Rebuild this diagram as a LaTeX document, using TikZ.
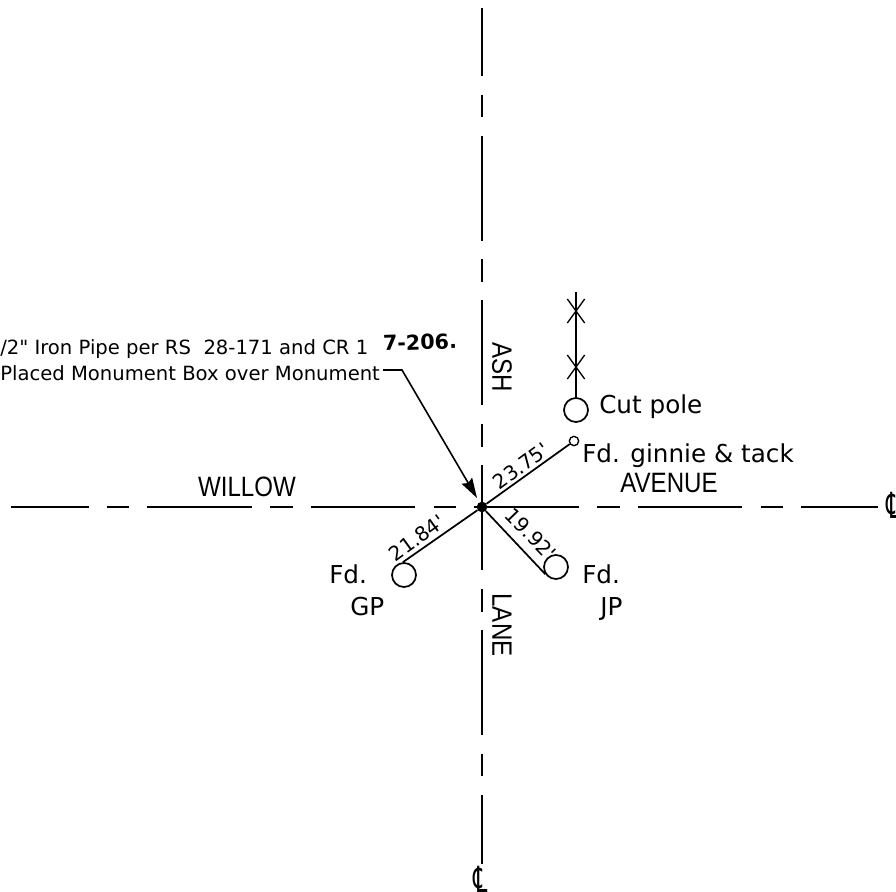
\documentclass[tikz,border=0pt]{standalone}
\usepackage{fontspec}
\setmainfont[Ligatures=TeXOff]{DejaVu Sans}
\newfontfamily\roadfont[FakeStretch=0.86]{Liberation Sans}
\newfontfamily\clfont[FakeStretch=0.62]{DejaVu Sans}
\usetikzlibrary{arrows.meta,shapes.misc}
\tikzstyle{road} = [line width=1.4pt, black]
\tikzstyle{roadname} = [inner sep=0pt, font=\roadfont\fontsize{21}{21}\selectfont]
\tikzstyle{clmark} = [inner sep=0pt, font=\clfont\fontsize{27}{27}\selectfont]
\tikzstyle{note} = [inner sep=0pt, anchor=base west, font=\fontsize{14.7}{16}\selectfont]
\tikzstyle{call} = [inner sep=0pt, anchor=base west, font=\fontsize{18.5}{20}\selectfont]
\tikzstyle{dist} = [inner sep=0pt, font=\fontsize{15}{16}\selectfont]
\tikzstyle{pole} = [circle, draw=black, line width=1.3pt, fill=white, minimum size=18pt, inner sep=0pt]
\tikzstyle{fencex} = [cross out, draw=black, line width=1pt, minimum width=12pt, minimum height=17pt, inner sep=0pt]
\tikzstyle{tie} = [line width=1.3pt, black]
\tikzstyle{arrow} = [line width=1.2pt, -{Stealth[length=15pt,width=9pt,inset=2pt]}]

\begin{document}
\begin{tikzpicture}[x=0.75pt,y=-0.75pt]
	\useasboundingbox (0,0) rectangle (896,892);
	% center lines
	\coordinate (ashtop) at (482,8);
	\coordinate (ashend) at (482,864);
	\coordinate (willowend) at (11,507);
	\coordinate (avenueend) at (878,507);
	\draw [road, dash pattern=on 78.75pt off 14pt on 17pt off 13.8pt, dash phase=27.75pt] (ashtop) -- (ashend);
	\draw [road, dash pattern=on 78.4pt off 13.6pt on 17pt off 13.6pt, dash phase=20.25pt] (willowend) -- (avenueend);
	\node (clsouth) [clmark] at (481,879) {℄};
	\node (cleast) [clmark] at (894,505) {℄};
	\node (ash) [roadname, rotate=-90] at (502,367) {ASH};
	\node (lane) [roadname, rotate=-90] at (502,625) {LANE};
	\node (willow) [roadname] at (247,487) {WILLOW};
	\node (avenue) [roadname] at (669,483) {AVENUE};
	% monument and ties
	\node (monument) [circle, fill=black, minimum size=8pt, inner sep=0pt] at (482,507) {};
	\node (ginnie) [pole, minimum size=7pt, line width=1pt] at (574,441) {};
	\node (gp) [pole] at (404,575) {};
	\node (jp) [pole] at (556,567) {};
	\draw [tie] (monument) -- (ginnie);
	\draw [tie] (monument) -- (gp.95);
	\draw [tie] (monument) -- (jp.214);
	\node (d1) [dist, rotate=36] at (521,466) {23.75'};
	\node (d2) [dist, rotate=36] at (417,538) {21.84'};
	\node (d3) [dist, rotate=-46] at (531,534) {19.92'};
	% fence and pole
	\coordinate (fencetop) at (576,292);
	\node (xa) [fencex] at (576,311) {};
	\node (xb) [fencex] at (576,367) {};
	\node (cut) [pole] at (576,410) {};
	\draw [tie] (fencetop) -- (xa.center) -- (xb.center) -- (cut);
	% labels
	\node (cutlabel) [call] at (599,413) {Cut pole};
	\node (ginnielabel) [call] at (582,462) {Fd. ginnie \& tack};
	\node (gpa) [call] at (329,583) {Fd.};
	\node (gpb) [call] at (350,615) {GP};
	\node (jpa) [call] at (582,583) {Fd.};
	\node (jpb) [call] at (600,615) {JP};
	% monument note
	\node (ironpipe) [note] at (0,354) {/2" Iron Pipe per RS\ \ 28-171 and CR 1};
	\node (hand) [inner sep=0pt, anchor=base west, font=\bfseries\fontsize{15.5}{16}\selectfont, rotate=2] at (383,351) {7-206.};
	\node (placed) [note] at (0,380) {Placed Monument Box over Monument};
	\coordinate (leadstart) at (383,370);
	\coordinate (leadkink) at (402,370);
	\coordinate (leadtip) at (477,498);
	\draw [arrow] (leadstart) -- (leadkink) -- (leadtip);
\end{tikzpicture}
\end{document}
